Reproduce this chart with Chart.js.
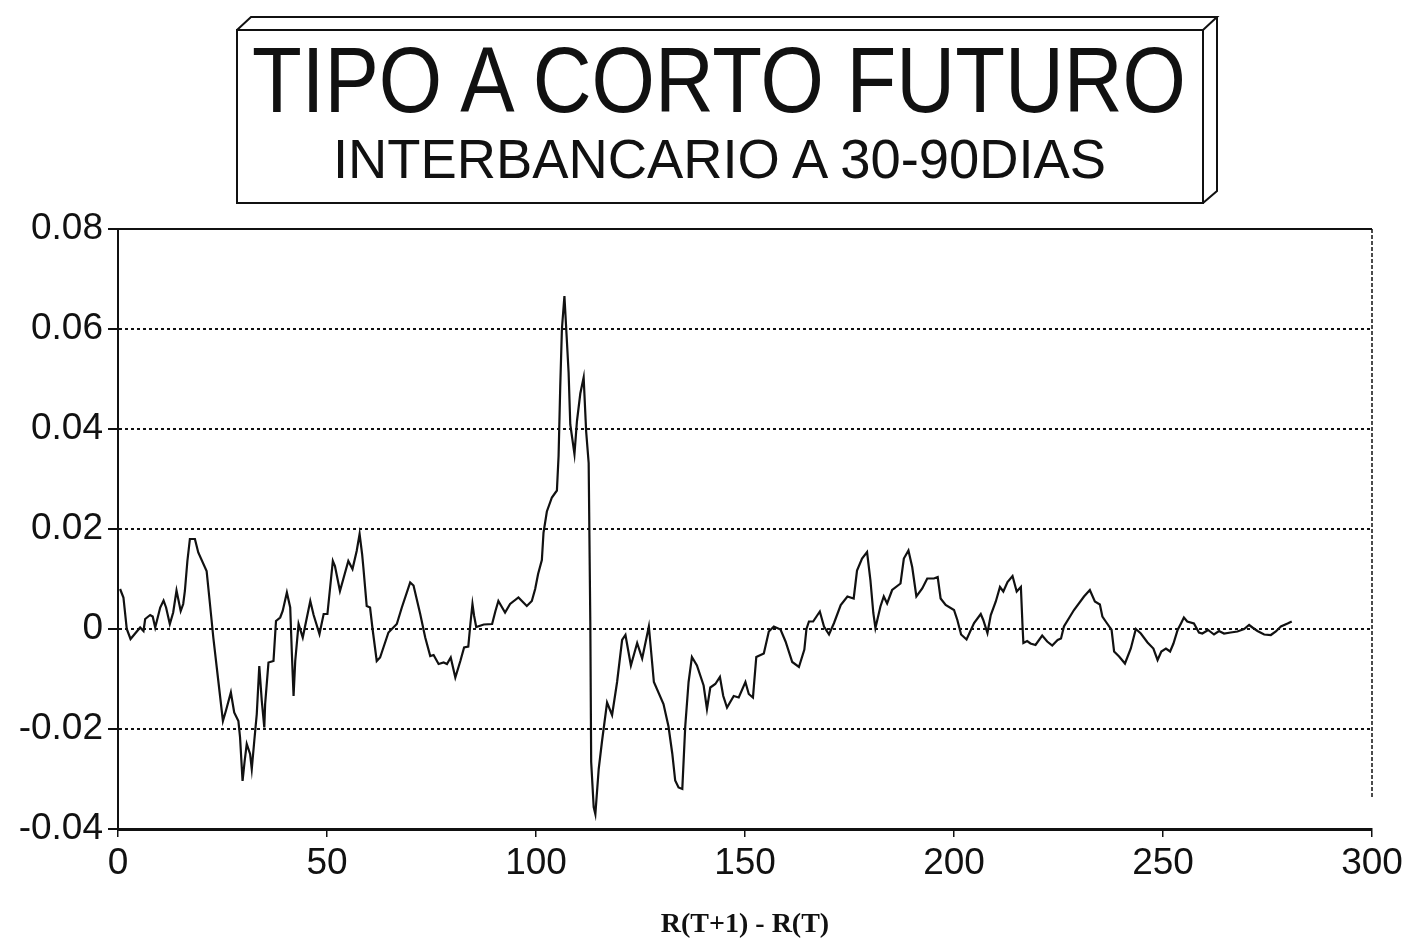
<!DOCTYPE html>
<html>
<head>
<meta charset="utf-8">
<script src="https://cdn.jsdelivr.net/npm/chart.js@4.4.1/dist/chart.umd.min.js"></script>
<style>
  html, body { margin: 0; padding: 0; background: #fff; }
  #wrap { position: relative; width: 1415px; height: 945px; overflow: hidden; }
  #c { position: absolute; left: 0; top: 0; }
  .ttl { position: absolute; white-space: nowrap; font-family: "Liberation Sans", Arial, sans-serif;
         color: #111; line-height: 1; transform-origin: 0 0; }
</style>
</head>
<body>
<div id="wrap">
  <canvas id="c" width="1415" height="945"></canvas>
  <div id="t1" class="ttl" style="font-size:92px; left:252px; top:34px;">TIPO A CORTO FUTURO</div>
  <div id="t2" class="ttl" style="font-size:56px; left:333px; top:131px;">INTERBANCARIO A 30-90DIAS</div>
</div>
<script>
// Title texts, squeezed to the condensed width of the original
const titleWidths = { t1: 934, t2: 773 };
for (const id in titleWidths) {
    const el = document.getElementById(id);
    const w = el.getBoundingClientRect().width;
    el.style.transform = 'scaleX(' + (titleWidths[id] / w) + ')';
}

// Axis settings
const xTicksStep = 50;
const xMin = 0, xMax = 300;
const yMin = -0.04, yMax = 0.08, yStep = 0.02;
const xAxisTitle = 'R(T+1) - R(T)';

const obsIndex = [
    0.5, 1.3, 2.1, 3.0, 5.3, 6.1, 6.5, 7.7, 8.3, 8.9,
    10.1, 10.9, 11.5, 12.4, 13.2, 14.0, 15.0, 15.6, 16.0, 16.6,
    17.2, 18.4, 19.2, 21.2, 22.0, 22.8, 24.0, 25.1, 25.8, 27.0,
    27.8, 28.8, 29.2, 29.8, 30.3, 30.8, 31.6, 32.0, 32.6, 33.2,
    33.8, 34.4, 35.0, 35.2, 36.0, 37.2, 37.8, 38.8, 39.4, 40.4,
    41.2, 41.6, 42.0, 42.4, 43.2, 44.2, 46.0, 46.8, 48.2, 49.2,
    50.1, 51.4, 51.9, 53.1, 55.1, 56.1, 57.1, 57.8, 58.4, 58.7,
    59.5, 60.3, 60.9, 61.9, 62.7, 64.7, 66.7, 67.9, 69.9, 70.7,
    72.3, 73.5, 74.7, 75.5, 76.7, 77.9, 78.7, 79.6, 80.7, 81.9,
    82.8, 83.8, 84.3, 84.8, 85.2, 85.7, 87.5, 89.5, 90.3, 91.0,
    92.6, 93.8, 95.8, 97.8, 99.0, 99.8, 100.5, 101.4, 101.8, 102.6,
    103.8, 105.0, 105.4, 105.8, 106.2, 106.8, 107.3, 107.8, 108.2, 109.2,
    109.8, 110.6, 111.4, 112.0, 112.6, 113.0, 113.2, 113.8, 114.2, 115.0,
    115.8, 117.0, 118.2, 119.4, 120.6, 121.4, 122.7, 124.2, 125.4, 127.0,
    128.2, 130.5, 131.7, 132.6, 133.3, 134.1, 135.0, 135.7, 136.5, 137.3,
    138.5, 140.1, 140.9, 141.7, 142.9, 144.0, 144.8, 145.7, 147.3, 148.5,
    150.1, 150.9, 151.9, 152.7, 154.5, 155.7, 156.9, 158.5, 159.7, 161.3,
    162.9, 164.2, 164.7, 165.3, 166.3, 167.9, 168.9, 170.1, 171.3, 172.9,
    174.5, 176.0, 176.8, 178.0, 179.2, 180.0, 180.7, 181.2, 182.4, 183.2,
    184.0, 185.2, 187.2, 188.0, 189.1, 190.0, 191.0, 192.4, 193.6, 195.2,
    196.1, 196.8, 198.0, 200.0, 200.8, 201.7, 203.0, 204.8, 206.4, 207.0,
    208.0, 208.8, 210.0, 211.0, 211.8, 212.8, 214.0, 215.0, 216.0, 216.4,
    216.6, 217.5, 218.3, 219.5, 221.1, 222.3, 223.5, 224.8, 225.6, 226.3,
    228.7, 231.1, 232.5, 233.7, 234.9, 235.5, 236.3, 237.7, 238.3, 239.5,
    240.9, 242.3, 243.5, 244.7, 246.3, 247.7, 248.7, 249.6, 250.7, 251.7,
    252.5, 253.5, 254.3, 255.0, 255.8, 257.4, 258.6, 259.4, 260.8, 262.2,
    263.4, 264.6, 266.2, 267.8, 269.4, 270.6, 271.4, 272.6, 274.2, 275.8,
    277.0, 278.2, 279.8, 280.8
];
const spreadValues = [
    0.008, 0.0063, 0.0, -0.002, 0.0003, -0.0004, 0.002, 0.0028, 0.0025, 0.0003,
    0.0043, 0.0057, 0.0043, 0.001, 0.0033, 0.0077, 0.0036, 0.005, 0.0076, 0.0136,
    0.018, 0.018, 0.0153, 0.0116, 0.005, -0.0017, -0.0104, -0.0184, -0.0164, -0.0127,
    -0.0167, -0.0184, -0.0217, -0.0304, -0.0264, -0.023, -0.025, -0.028, -0.0224, -0.017,
    -0.0074, -0.0144, -0.0197, -0.015, -0.0067, -0.0064, 0.0016, 0.0023, 0.0036, 0.0073,
    0.0043, -0.005, -0.0134, -0.0064, 0.001, -0.0017, 0.0056, 0.0028, -0.001, 0.003,
    0.003, 0.0136, 0.0126, 0.0076, 0.0136, 0.012, 0.0156, 0.019, 0.015, 0.0123,
    0.0046, 0.0043, 0.0, -0.0064, -0.0057, -0.0007, 0.001, 0.0043, 0.0093, 0.0087,
    0.003, -0.0017, -0.0054, -0.0052, -0.007, -0.0067, -0.007, -0.0057, -0.0097, -0.0064,
    -0.0037, -0.0035, 0.001, 0.005, 0.0026, 0.0004, 0.0009, 0.001, 0.0036, 0.0056,
    0.0033, 0.005, 0.0063, 0.0046, 0.0056, 0.008, 0.011, 0.0138, 0.0193, 0.0235,
    0.0263, 0.0277, 0.0346, 0.0485, 0.060, 0.0666, 0.059, 0.0513, 0.0409, 0.035,
    0.0416, 0.0471, 0.0503, 0.0395, 0.0332, 0.0006, -0.0266, -0.0356, -0.037, -0.028,
    -0.0224, -0.0147, -0.0172, -0.0106, -0.0022, -0.0012, -0.0073, -0.0028, -0.0059, 0.0005,
    -0.0106, -0.015, -0.0195, -0.0249, -0.0303, -0.0317, -0.032, -0.0195, -0.0106, -0.0056,
    -0.0073, -0.0113, -0.016, -0.0117, -0.011, -0.0096, -0.0134, -0.0157, -0.0134, -0.0137,
    -0.0106, -0.013, -0.0137, -0.0056, -0.0049, -0.0005, 0.0005, -0.0001, -0.0025, -0.0066,
    -0.0076, -0.0041, 0.0, 0.0015, 0.0015, 0.0035, 0.0005, -0.0011, 0.0012, 0.0048,
    0.0065, 0.0061, 0.0117, 0.0141, 0.0154, 0.0098, 0.0032, 0.0002, 0.0045, 0.0065,
    0.0051, 0.0078, 0.0091, 0.0141, 0.0157, 0.0124, 0.0065, 0.0081, 0.0101, 0.0101,
    0.0104, 0.0061, 0.0048, 0.0038, 0.0018, -0.0011, -0.0021, 0.0012, 0.003, 0.0018,
    -0.0008, 0.0028, 0.0055, 0.0084, 0.0075, 0.0094, 0.0106, 0.0075, 0.0084, 0.0005,
    -0.0028, -0.0024, -0.0029, -0.0032, -0.0013, -0.0025, -0.0033, -0.0022, -0.0019, 0.0005,
    0.0038, 0.0065, 0.0078, 0.0055, 0.0049, 0.0025, 0.0015, -0.0002, -0.0045, -0.0055,
    -0.0069, -0.0039, 0.0, -0.0009, -0.0027, -0.0039, -0.0062, -0.0045, -0.0039, -0.0045,
    -0.0029, -0.0002, 0.0011, 0.0023, 0.0015, 0.0011, -0.0007, -0.0009, -0.0002, -0.0011,
    -0.0004, -0.0009, -0.0007, -0.0005, 0.0, 0.0008, 0.0003, -0.0004, -0.0011, -0.0012,
    -0.0005, 0.0005, 0.0011, 0.0015
];

const points = obsIndex.map((x, i) => ({ x: x, y: spreadValues[i] }));

// solid top edge and dashed right edge of the plot frame
const framePlugin = {
    id: 'frame',
    afterDraw(chart) {
        const a = chart.chartArea;
        const ctx = chart.ctx;
        ctx.save();
        ctx.strokeStyle = '#111';
        ctx.lineWidth = 2;
        ctx.beginPath();
        ctx.moveTo(a.left, a.top);
        ctx.lineTo(a.right, a.top);
        ctx.stroke();
        ctx.lineWidth = 1.5;
        ctx.setLineDash([4, 2]);
        ctx.beginPath();
        ctx.moveTo(a.right, a.top);
        ctx.lineTo(a.right, a.bottom - 30);
        ctx.stroke();
        ctx.restore();
    }
};

// 3D box behind the title
const boxPlugin = {
    id: 'titleBox',
    beforeDraw(chart) {
        const ctx = chart.ctx;
        const L = 237, R = 1203, T = 30, B = 203, d = 14;
        ctx.save();
        ctx.strokeStyle = '#111';
        ctx.lineWidth = 2;
        ctx.strokeRect(L, T, R - L, B - T);
        ctx.beginPath();
        ctx.moveTo(L, T); ctx.lineTo(L + d, T - d + 1);
        ctx.lineTo(R + d, T - d + 1); ctx.lineTo(R, T);
        ctx.moveTo(R + d, T - d + 1); ctx.lineTo(R + d, B - d + 2); ctx.lineTo(R, B);
        ctx.stroke();
        ctx.restore();
    }
};

const ink = '#111';
const labelFont = { family: '"Liberation Sans", Arial, sans-serif', size: 37 };

new Chart(document.getElementById('c'), {
    type: 'line',
    data: {
        datasets: [{
            data: points,
            borderColor: ink,
            borderWidth: 2.2,
            pointRadius: 0,
            tension: 0,
            fill: false
        }]
    },
    options: {
        responsive: false,
        devicePixelRatio: 1,
        animation: false,
        layout: { padding: { top: 229, right: 43, left: 0, bottom: 0 } },
        plugins: {
            legend: { display: false },
            tooltip: { enabled: false },
            title: { display: false }
        },
        scales: {
            x: {
                type: 'linear',
                min: xMin,
                max: xMax,
                afterFit: (s) => { s.height = 116; },
                ticks: { stepSize: xTicksStep, color: ink, font: labelFont, padding: 5, maxRotation: 0 },
                grid: { drawOnChartArea: false, drawTicks: true, tickLength: 8, color: ink, lineWidth: 1.5 },
                border: { display: true, color: ink, width: 3 },
                title: {
                    display: true,
                    text: xAxisTitle,
                    color: ink,
                    font: { family: '"Liberation Serif", "Times New Roman", serif', size: 28, weight: 'bold' },
                    padding: { top: 0, bottom: 3 }
                }
            },
            y: {
                min: yMin,
                max: yMax,
                afterFit: (s) => { s.width = 118; },
                ticks: {
                    stepSize: yStep,
                    color: ink,
                    font: labelFont,
                    padding: 5,
                    callback: (v) => Math.abs(v) < 1e-9 ? '0' : v.toFixed(2)
                },
                grid: {
                    color: ink,
                    lineWidth: 2,
                    drawTicks: true,
                    tickLength: 10,
                    tickBorderDash: []
                },
                border: { display: true, color: ink, width: 2, dash: [3, 3] }
            }
        }
    },
    plugins: [boxPlugin, framePlugin]
});
</script>
</body>
</html>
